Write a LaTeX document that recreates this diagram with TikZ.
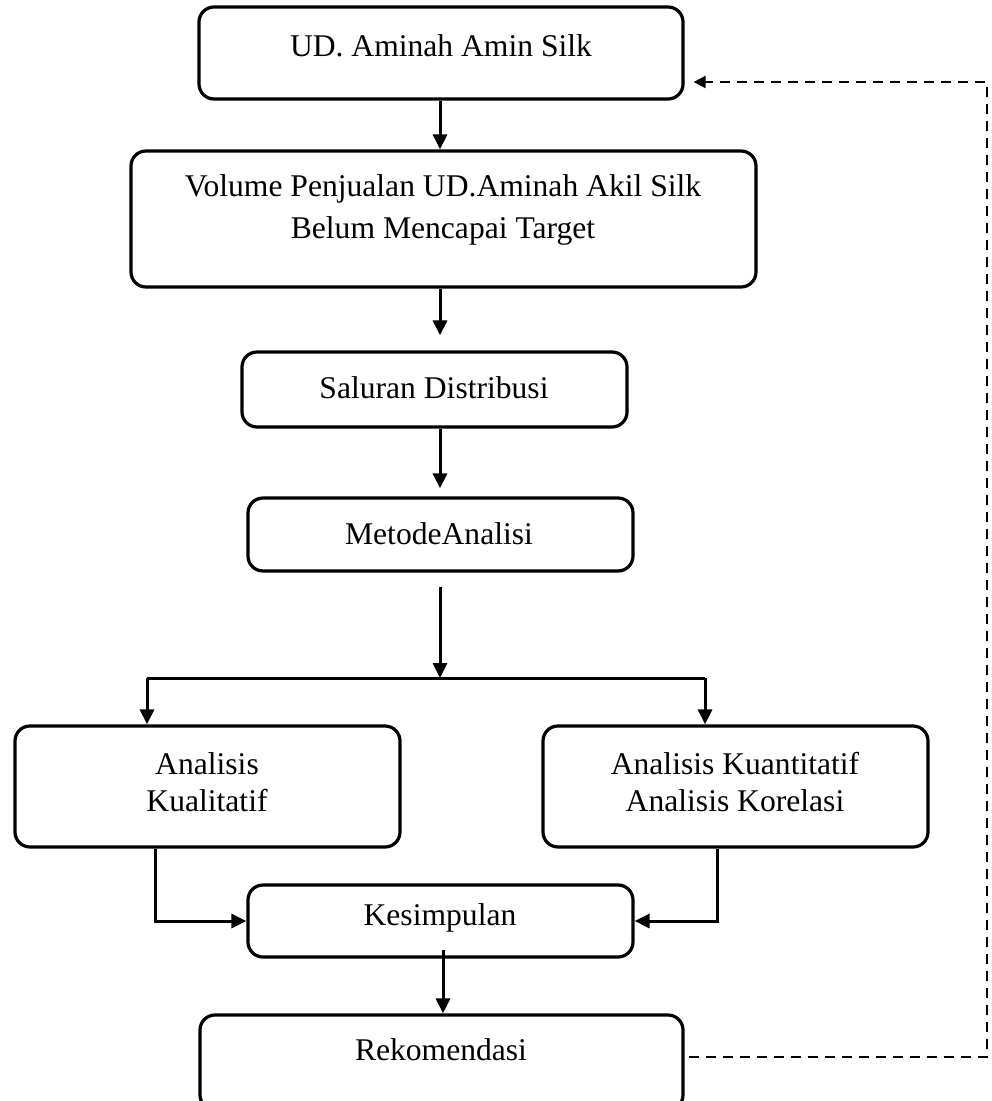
\documentclass[tikz,border=0pt]{standalone}
\usepackage{fontspec}
\setmainfont{Liberation Serif}
\usetikzlibrary{arrows.meta,fit}
\begin{document}
\begin{tikzpicture}[x=0.5pt,y=-0.5pt,
  box/.style={draw, line width=1.6pt, rounded corners=7.5pt, inner sep=0pt},
  lbl/.style={font=\fontsize{15.8}{19}\selectfont, align=center, inner sep=0pt},
  conn/.style={line width=1.5pt, -{Triangle[length=7.5pt,width=7pt]}},
  plainline/.style={line width=1.5pt},
  fb/.style={line width=1pt, dash pattern=on 5pt off 3.5pt, -{Triangle[length=6pt,width=6pt]}}]
\useasboundingbox (0,0) rectangle (991,1101);

% boxes
\node[box, fit={(199,7) (683,99)}] (b1) {};
\node[lbl] (t1) at (441,46) {UD. Aminah Amin Silk};

\node[box, fit={(131,151) (756,287)}] (b2) {};
\node[lbl, font=\fontsize{15.8}{21}\selectfont] (t2) at (443,210) {Volume Penjualan UD.Aminah Akil Silk\\Belum Mencapai Target};

\node[box, fit={(242,352) (627,427)}] (b3) {};
\node[lbl] (t3) at (434,388) {Saluran Distribusi};

\node[box, fit={(248,498) (633,571)}] (b4) {};
\node[lbl] (t4) at (439,534) {MetodeAnalisi};

\node[box, fit={(15,726) (400,847)}] (b5) {};
\node[lbl, font=\fontsize{15.8}{18.5}\selectfont] (t5) at (207,782) {Analisis\\Kualitatif};

\node[box, fit={(543,726) (928,847)}] (b6) {};
\node[lbl, font=\fontsize{15.8}{18.5}\selectfont] (t6) at (735,782) {Analisis Kuantitatif\\Analisis Korelasi};

\node[box, fit={(248,885) (633,957)}] (b7) {};
\node[lbl] (t7) at (440,918) {Kesimpulan};

\node[box, fit={(200,1015) (683,1110)}] (b8) {};
\node[lbl] (t8) at (441,1050) {Rekomendasi};

% helper coordinates
\coordinate (ax) at (440,0);
\coordinate (ax2) at (443,0);
\coordinate (split) at (440,678);
\coordinate (sl) at (147,678);
\coordinate (sr) at (705,678);
\coordinate (ql) at (155,0);
\coordinate (qr) at (717,0);
\coordinate (d0) at (987,1057);
\coordinate (d1) at (987,82);

% connectors
\draw[conn] (b1.south -| ax) -- (b2.north -| ax);
\draw[conn, shorten >=7.5pt] (b2.south -| ax) -- (b3.north -| ax);
\draw[conn, shorten >=4pt] (b3.south -| ax) -- (b4.north -| ax);
\draw[conn, shorten <=7pt] (b4.south -| ax) -- (split);
\draw[plainline] (sl) -- (sr);
\draw[conn] (sl) -- (sl |- b5.north);
\draw[conn] (sr) -- (sr |- b6.north);
\draw[conn] (b5.south -| ql) |- (b7.west);
\draw[conn] (b6.south -| qr) |- (b7.east);
\draw[conn, shorten <=-4.5pt] (b7.south -| ax2) -- (b8.north -| ax2);

% feedback
\draw[fb, shorten >=4.5pt] ([xshift=2pt]b8.east |- d0) -- (d0) -- (d1) -- (b1.east |- d1);
\end{tikzpicture}
\end{document}
